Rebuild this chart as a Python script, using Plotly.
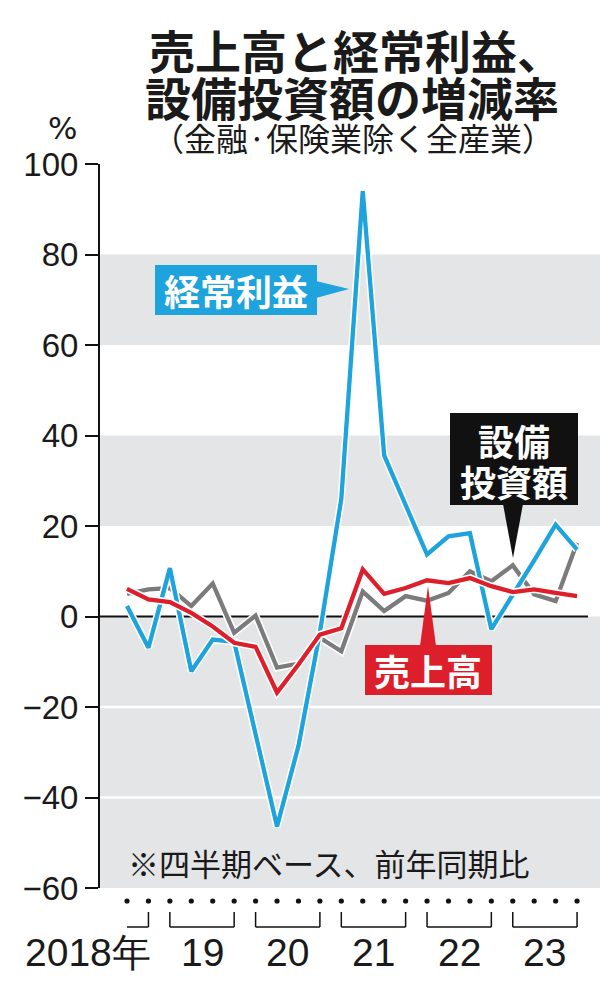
import plotly.graph_objects as go

# ---------------- data ----------------
quarters = ["2018Q3", "2018Q4",
            "2019Q1", "2019Q2", "2019Q3", "2019Q4",
            "2020Q1", "2020Q2", "2020Q3", "2020Q4",
            "2021Q1", "2021Q2", "2021Q3", "2021Q4",
            "2022Q1", "2022Q2", "2022Q3", "2022Q4",
            "2023Q1", "2023Q2", "2023Q3", "2023Q4"]
sales = [6.1, 3.8, 3.2, 0.8, -2.2, -5.8, -6.7, -16.8, -10.6, -4.0, -2.6,
         10.4, 5.0, 6.3, 8.0, 7.4, 8.5, 6.7, 5.4, 6.0, 5.2, 4.5]
profit = [2.3, -6.9, 10.7, -12.1, -5.1, -5.6, -26.0, -46.4, -28.6, -3.5, 26.0,
          94.0, 35.6, 24.6, 13.7, 17.7, 18.4, -2.8, 4.7, 12.4, 20.3, 14.8]
capex = [5.0, 6.0, 6.3, 2.3, 7.3, -3.6, 0.2, -11.3, -10.4, -4.7, -7.7,
         5.5, 1.2, 4.5, 3.5, 5.2, 10.0, 7.8, 11.3, 4.9, 3.4, 16.3]
year_labels = ["2018年", "19", "20", "21", "22", "23"]
year_spans = [(0, 1), (2, 5), (6, 9), (10, 13), (14, 17), (18, 21)]
y_ticks = [-60, -40, -20, 0, 20, 40, 60, 80, 100]

BLUE = "#1ea3dc"
RED = "#dd1f2b"
GRAY = "#7b7b7b"
BAND = "#e4e5e7"
CJK = "Noto Sans CJK JP"

# plot area in page pixels (page has an 8px body margin)
OFF = 8
L, R, T, B = 100, 600, 164, 888
W, H = 616 - OFF, 1000 - OFF


def pxx(x):
    return (x - L) / (R - L)


def pxy(y):
    return (B - y) / (B - T)


fig = go.Figure()

series = [(capex, GRAY), (profit, BLUE), (sales, RED)]
for vals, col in series:
    fig.add_trace(go.Scatter(x=quarters, y=vals, mode="lines",
                             line=dict(color="white", width=7.5),
                             hoverinfo="skip", showlegend=False))
    fig.add_trace(go.Scatter(x=quarters, y=vals, mode="lines",
                             line=dict(color=col, width=4.3),
                             showlegend=False))

shapes = []
# gray bands
for y0, y1 in [(60, 80), (20, 40), (-60, 0)]:
    shapes.append(dict(type="rect", xref="paper", yref="y", x0=0, x1=1,
                       y0=y0, y1=y1, fillcolor=BAND, line=dict(width=0),
                       layer="below"))
for yv in [-20, -40]:
    shapes.append(dict(type="line", xref="paper", yref="y", x0=0, x1=1,
                       y0=yv, y1=yv, line=dict(color="white", width=2.5),
                       layer="below"))
shapes.append(dict(type="line", xref="paper", yref="y", x0=0, x1=0.976,
                   y0=0, y1=0, line=dict(color="#111111", width=2),
                   layer="below"))

# quarter dots under the plot
for q in quarters:
    shapes.append(dict(type="circle", xref="x", yref="paper",
                       xsizemode="pixel", ysizemode="pixel",
                       xanchor=q, yanchor=pxy(901),
                       x0=-2.6, x1=2.6, y0=-2.6, y1=2.6,
                       fillcolor="#111111", line=dict(width=0)))

# year brackets
yb_top, yb_bot = pxy(912), pxy(927)
for k, (a, b) in enumerate(year_spans):
    shapes.append(dict(type="line", xref="x", yref="paper",
                       x0=quarters[a], x1=quarters[b], y0=yb_bot, y1=yb_bot,
                       line=dict(color="#111111", width=1.5)))
    shapes.append(dict(type="line", xref="x", yref="paper",
                       x0=quarters[b], x1=quarters[b], y0=yb_bot, y1=yb_top,
                       line=dict(color="#111111", width=1.5)))
    if k > 0:
        shapes.append(dict(type="line", xref="x", yref="paper",
                           x0=quarters[a], x1=quarters[a], y0=yb_bot, y1=yb_top,
                           line=dict(color="#111111", width=1.5)))


def box(x0, y0, x1, y1, col):
    shapes.append(dict(type="rect", xref="paper", yref="paper",
                       x0=pxx(x0), x1=pxx(x1), y0=pxy(y1), y1=pxy(y0),
                       fillcolor=col, line=dict(width=0), layer="above"))


def tri(pts, col):
    path = "M " + " L ".join(f"{pxx(a):.5f},{pxy(b):.5f}" for a, b in pts) + " Z"
    shapes.append(dict(type="path", xref="paper", yref="paper", path=path,
                       fillcolor=col, line=dict(width=0), layer="above"))


# label boxes
box(155, 265, 317, 315, BLUE)
tri([(316, 281), (316, 298), (349, 289)], BLUE)
box(450, 413, 578, 505, "#111111")
tri([(503, 504), (523, 504), (513, 558)], "#111111")
box(365, 645, 492, 695, RED)
tri([(420, 646), (436, 646), (428, 586)], RED)

annotations = []


def txt(text, x, y, size, color="#1a1a1a", family=CJK, xanchor="center",
        xref="paper", yanchor="middle"):
    annotations.append(dict(text=text, x=x, y=y, xref=xref, yref="paper",
                            showarrow=False, xanchor=xanchor, yanchor=yanchor,
                            font=dict(size=size, color=color, family=family)))


txt("<b>売上高と経常利益、</b>", pxx(356), pxy(49), 46)
txt("<b>設備投資額の増減率</b>", pxx(352), pxy(96), 46)
txt("（金融·保険業除く全産業）", pxx(353), pxy(137), 32)
txt("%", pxx(62), pxy(128), 31, family="DejaVu Sans")
txt("※四半期ベース、前年同期比", pxx(126), pxy(862), 31, xanchor="left")

txt("<b>経常利益</b>", pxx(236), pxy(290), 36, color="white")
txt("<b>設備</b>", pxx(514), pxy(440), 36, color="white")
txt("<b>投資額</b>", pxx(514), pxy(481), 36, color="white")
txt("<b>売上高</b>", pxx(428), pxy(670), 36, color="white")

# year labels
yl = pxy(952)
YFONT = dict(size=39, color="#1a1a1a", family="Liberation Sans")
for k, (a, b) in enumerate(year_spans):
    if k == 0:
        annotations.append(dict(text=year_labels[k], x=1.22, y=yl, xref="x",
                                yref="paper", showarrow=False, xanchor="right",
                                yanchor="middle", font=YFONT))
    else:
        annotations.append(dict(text=year_labels[k], x=(a + b) / 2, y=yl,
                                xref="x", yref="paper", showarrow=False,
                                xanchor="center", yanchor="middle", font=YFONT))

fig.update_layout(
    width=W, height=H,
    margin=dict(l=L - OFF, r=W - (R - OFF), t=T - OFF, b=H - (B - OFF)),
    paper_bgcolor="white", plot_bgcolor="white",
    shapes=shapes, annotations=annotations,
    showlegend=False,
    xaxis=dict(type="category", range=[-1.26, 22.07], visible=False),
    yaxis=dict(range=[-60, 100], tickvals=y_ticks,
               ticktext=[str(v) if v >= 0 else "\u2212" + str(-v) for v in y_ticks],
               ticks="outside", ticklen=13, tickwidth=2, tickcolor="#111111",
               showline=True, linecolor="#111111", linewidth=2,
               showgrid=False, zeroline=False,
               tickfont=dict(family="Liberation Sans", size=33, color="#1a1a1a")),
)

fig.write_html("out.html")
